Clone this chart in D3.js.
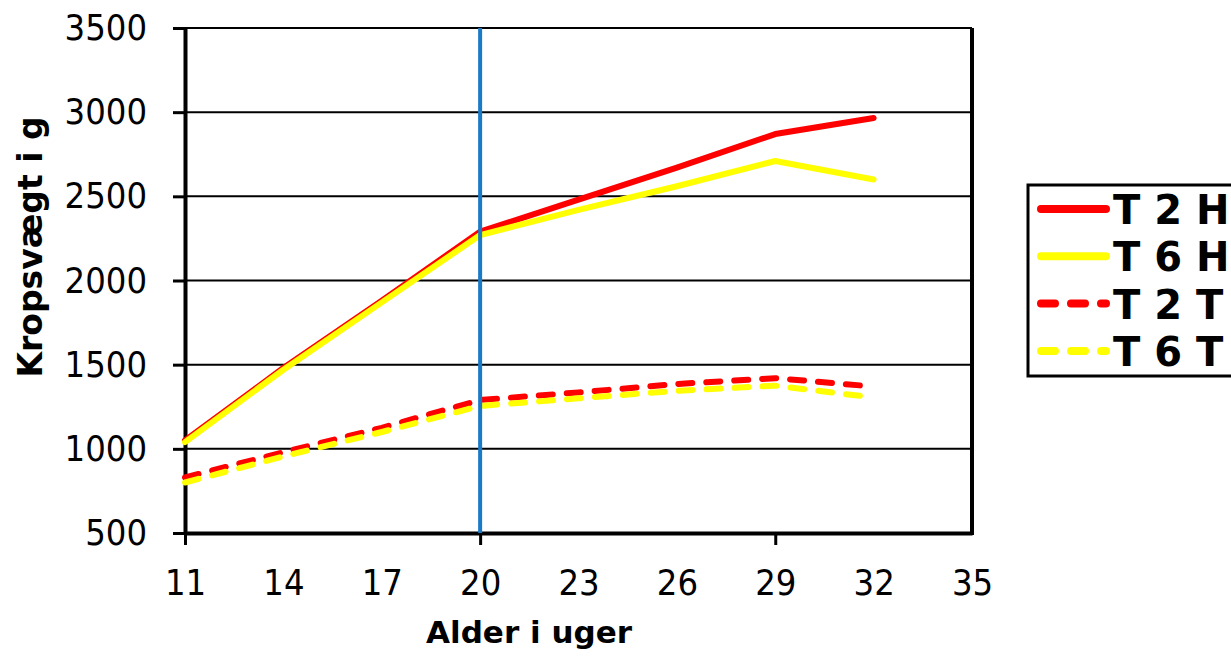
<!DOCTYPE html>
<html>
<head>
<meta charset="utf-8">
<script src="https://cdn.jsdelivr.net/npm/d3@7"></script>
<style>
  body { margin: 0; background: #fff; }
  svg { display: block; }
  .tick text { font-family: "DejaVu Sans Condensed", "DejaVu Sans", sans-serif; font-size: 36px; fill: #000; }
  .title { font-family: "DejaVu Sans", sans-serif; font-weight: bold; fill: #000; }
</style>
</head>
<body>
<div id="graf"></div>
<script>
// Datos
const weeks = [11, 14, 17, 20, 23, 26, 29, 32]
const t2h = [1050, 1480, 1880, 2290, 2480, 2670, 2870, 2965]
const t6h = [1040, 1470, 1870, 2270, 2420, 2560, 2710, 2600]
const t2t = [830, 980, 1125, 1290, 1335, 1385, 1420, 1370]
const t6t = [800, 955, 1100, 1255, 1300, 1345, 1375, 1305]
const seriesNames = ["T 2 H", "T 6 H", "T 2 T", "T 6 T"]
const xTickLabels = [11, 14, 17, 20, 23, 26, 29, 32, 35]
const xTickMarks = [11, 20, 29]
const yTickLabels = [500, 1000, 1500, 2000, 2500, 3000, 3500]
const markerWeek = 20

const series = [
  { name: seriesNames[0], values: t2h, color: "#ff0000", dashed: false },
  { name: seriesNames[2], values: t2t, color: "#ff0000", dashed: true },
  { name: seriesNames[1], values: t6h, color: "#ffff00", dashed: false },
  { name: seriesNames[3], values: t6t, color: "#ffff00", dashed: true },
]

const W = 1231, H = 656
const margins = { top: 28, right: 259, bottom: 123, left: 185 }
const ancho = W - margins.left - margins.right
const alto = H - margins.top - margins.bottom

const svg = d3.select("#graf").append("svg").attr("width", W).attr("height", H)
const g = svg.append("g").attr("transform", `translate(${margins.left}, ${margins.top})`)

// Escaladores
const x = d3.scaleLinear().domain([11, 35]).range([0, ancho])
const y = d3.scaleLinear().domain([500, 3500]).range([alto, 0])

// Rejilla
g.append("g")
  .selectAll("line")
  .data(yTickLabels)
  .join("line")
  .attr("x1", 0)
  .attr("x2", ancho)
  .attr("y1", (d) => y(d))
  .attr("y2", (d) => y(d))
  .attr("stroke", "#000")
  .attr("stroke-width", 2)

// Ejes
const yAxisGroup = g.append("g")
  .call(d3.axisLeft(y).tickValues(yTickLabels).tickFormat(d3.format("d"))
    .tickSize(12).tickPadding(26).tickSizeOuter(0))
yAxisGroup.select(".domain").attr("stroke-width", 4)
yAxisGroup.selectAll(".tick line").attr("stroke-width", 3)

const xLabels = g.append("g")
  .attr("transform", `translate(0, ${alto})`)
  .call(d3.axisBottom(x).tickValues(xTickLabels).tickSize(0).tickPadding(36))
xLabels.select(".domain").remove()

const xMarks = g.append("g")
  .attr("transform", `translate(0, ${alto})`)
  .call(d3.axisBottom(x).tickValues(xTickMarks).tickSize(12).tickSizeOuter(0).tickFormat(""))
xMarks.select(".domain").attr("stroke-width", 4)
xMarks.selectAll(".tick line").attr("stroke-width", 3)

// borde derecho
g.append("line")
  .attr("x1", x(35)).attr("x2", x(35))
  .attr("y1", y(3500)).attr("y2", y(500) + 2)
  .attr("stroke", "#000").attr("stroke-width", 4)

// Líneas
const line = d3.line()
  .x((d, i) => x(weeks[i]))
  .y((d) => y(d))

g.selectAll(".serie")
  .data(series)
  .join("path")
  .attr("class", "serie")
  .attr("d", (d) => line(d.values))
  .attr("fill", "none")
  .attr("stroke", (d) => d.color)
  .attr("stroke-width", 6)
  .attr("stroke-linecap", "round")
  .attr("stroke-linejoin", "round")
  .attr("stroke-dasharray", (d) => (d.dashed ? "14,14" : null))

// Línea vertical semana 20
g.append("line")
  .attr("x1", x(markerWeek)).attr("x2", x(markerWeek))
  .attr("y1", y(3500)).attr("y2", y(500))
  .attr("stroke", "#1a7ac6")
  .attr("stroke-width", 4)

// Títulos
svg.append("text")
  .attr("class", "title")
  .attr("x", 529)
  .attr("y", 643)
  .attr("text-anchor", "middle")
  .attr("font-size", 31)
  .text("Alder i uger")

svg.append("text")
  .attr("class", "title")
  .attr("transform", "translate(42, 247) rotate(-90)")
  .attr("text-anchor", "middle")
  .attr("font-size", 33)
  .text("Kropsvægt i g")

// Leyenda
const legendOrder = [series[0], series[2], series[1], series[3]]
const legend = svg.append("g").attr("transform", "translate(1028, 185)")
legend.append("rect")
  .attr("x", 0).attr("y", 0)
  .attr("width", 260).attr("height", 191)
  .attr("fill", "#fff").attr("stroke", "#000").attr("stroke-width", 3)

const item = legend.selectAll(".item")
  .data(legendOrder)
  .join("g")
  .attr("class", "item")
  .attr("transform", (d, i) => `translate(0, ${24 + i * 47.3})`)
item.append("line")
  .attr("x1", 13).attr("x2", 78)
  .attr("stroke", (d) => d.color)
  .attr("stroke-width", 8)
  .attr("stroke-linecap", "round")
  .attr("stroke-dasharray", (d) => (d.dashed ? "14,16" : null))
item.append("text")
  .attr("class", "title")
  .attr("x", 85)
  .attr("y", 15)
  .attr("font-size", 40)
  .text((d) => d.name)
</script>
</body>
</html>
